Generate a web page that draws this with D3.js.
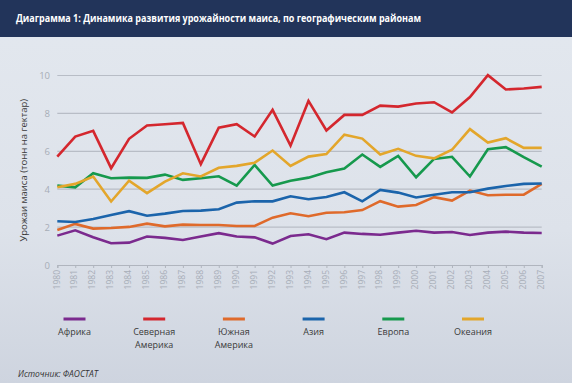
<!DOCTYPE html>
<html>
<head>
<meta charset="utf-8">
<script src="https://cdn.jsdelivr.net/npm/d3@7"></script>
<style>
  body { margin: 0; }
  svg { display: block; font-family: "Open Sans", "Noto Sans", sans-serif; }
</style>
</head>
<body>
<svg id="chart" width="572" height="383"></svg>
<script>
// --- Data ---
const years = d3.range(1980, 2008);
const yTicks = [0, 2, 4, 6, 8, 10];

const africa = [1.55, 1.83, 1.46, 1.15, 1.18, 1.50, 1.43, 1.32, 1.50, 1.68, 1.50, 1.46, 1.13, 1.53, 1.62, 1.36, 1.71, 1.64, 1.60, 1.71, 1.81, 1.71, 1.74, 1.58, 1.71, 1.76, 1.71, 1.69];
const northAmerica = [5.72, 6.78, 7.08, 5.11, 6.66, 7.36, 7.43, 7.50, 5.32, 7.25, 7.43, 6.78, 8.19, 6.30, 8.66, 7.10, 7.92, 7.92, 8.41, 8.36, 8.52, 8.59, 8.05, 8.86, 10.02, 9.26, 9.31, 9.40];
const southAmerica = [1.85, 2.17, 1.92, 1.95, 2.01, 2.18, 2.04, 2.13, 2.11, 2.11, 2.06, 2.06, 2.50, 2.73, 2.57, 2.76, 2.78, 2.90, 3.37, 3.08, 3.17, 3.58, 3.40, 3.93, 3.68, 3.71, 3.71, 4.28];
const asia = [2.31, 2.27, 2.43, 2.64, 2.84, 2.60, 2.71, 2.85, 2.87, 2.94, 3.29, 3.36, 3.36, 3.63, 3.47, 3.59, 3.84, 3.36, 3.96, 3.82, 3.56, 3.71, 3.84, 3.84, 4.03, 4.17, 4.28, 4.30];
const europe = [4.19, 4.10, 4.84, 4.58, 4.61, 4.60, 4.77, 4.49, 4.58, 4.68, 4.19, 5.28, 4.19, 4.45, 4.61, 4.90, 5.09, 5.83, 5.18, 5.76, 4.63, 5.60, 5.71, 4.67, 6.11, 6.22, 5.69, 5.19];
const oceania = [4.10, 4.28, 4.67, 3.35, 4.45, 3.79, 4.40, 4.84, 4.67, 5.13, 5.23, 5.40, 6.04, 5.23, 5.72, 5.85, 6.88, 6.67, 5.83, 6.13, 5.76, 5.63, 6.08, 7.17, 6.46, 6.69, 6.18, 6.18];

const seriesNames = ['Африка', 'Северная\nАмерика', 'Южная\nАмерика', 'Азия', 'Европа', 'Океания'];
const seriesValues = [africa, northAmerica, southAmerica, asia, europe, oceania];
const seriesColors = ['#7b2a8e', '#d4272e', '#df6a2b', '#1b64ab', '#16994d', '#e3a62b'];

// --- Setup ---
const W = 572, H = 383;
const svg = d3.select('#chart');

const defs = svg.append('defs');
const grad = defs.append('linearGradient')
  .attr('id', 'bg').attr('x1', 0).attr('y1', 0).attr('x2', 0).attr('y2', 1);
grad.append('stop').attr('offset', '0%').attr('stop-color', '#e3e8ef');
grad.append('stop').attr('offset', '60%').attr('stop-color', '#dde2ea');
grad.append('stop').attr('offset', '100%').attr('stop-color', '#ced4df');

svg.append('rect').attr('width', W).attr('height', H).attr('fill', 'url(#bg)');

// Title banner
svg.append('rect').attr('width', W).attr('height', 37).attr('fill', '#22345a');
svg.append('text')
  .attr('x', 16).attr('y', 22)
  .attr('fill', '#fff')
  .attr('font-size', 10.5)
  .attr('font-weight', 'bold')
  .attr('font-family', '"Liberation Sans Narrow", "Open Sans", sans-serif')
  .attr('textLength', 405)
  .attr('lengthAdjust', 'spacingAndGlyphs')
  .text('Диаграмма 1: Динамика развития урожайности маиса, по географическим районам');

// Scales
const x = d3.scaleLinear().domain([1980, 2007]).range([57.3, 541.7]);
const y = d3.scaleLinear().domain([0, 10]).range([265, 75.5]);

// Gridlines
svg.append('g')
  .selectAll('line')
  .data(yTicks.filter(d => d > 0))
  .join('line')
  .attr('x1', x(1980)).attr('x2', x(2007))
  .attr('y1', d => y(d)).attr('y2', d => y(d))
  .attr('stroke', '#b8bdc6').attr('stroke-width', 1.2);

// Y labels
svg.append('g')
  .selectAll('text')
  .data(yTicks)
  .join('text')
  .attr('x', 50).attr('y', d => y(d) + 3.5)
  .attr('text-anchor', 'end')
  .attr('font-size', 9.5)
  .attr('fill', '#a7adb7')
  .text(d => d);

// X axis
const xAxis = svg.append('g')
  .attr('transform', `translate(0,${y(0)})`)
  .call(d3.axisBottom(x).tickValues(years).tickFormat(d3.format('d')).tickSize(3));
xAxis.select('.domain').attr('stroke', '#b0b5be').attr('stroke-width', 1.2);
xAxis.selectAll('.tick line').attr('stroke', '#b0b5be');
xAxis.selectAll('.tick text')
  .attr('font-size', 8.5)
  .attr('font-family', '"Open Sans", sans-serif')
  .attr('fill', '#a7adb7')
  .attr('transform', 'rotate(-90)')
  .attr('text-anchor', 'end')
  .attr('x', -5).attr('y', -1)
  .attr('dy', '0.32em');

// Y axis title
svg.append('text')
  .attr('transform', `translate(27,${(y(0) + y(10)) / 2}) rotate(-90)`)
  .attr('text-anchor', 'middle')
  .attr('font-size', 9.5)
  .attr('fill', '#3a3a3a')
  .text('Урожаи маиса (тонн на гектар)');

// Lines
const line = d3.line()
  .x((d, i) => x(years[i]))
  .y(d => y(d));

svg.append('g')
  .selectAll('path')
  .data(seriesValues)
  .join('path')
  .attr('d', line)
  .attr('fill', 'none')
  .attr('stroke', (d, i) => seriesColors[i])
  .attr('stroke-width', 2.6)
  .attr('stroke-linejoin', 'miter');

// Legend
const lx = d3.scalePoint().domain(seriesNames).range([74.5, 473]);
const legend = svg.append('g')
  .selectAll('g')
  .data(seriesNames)
  .join('g')
  .attr('transform', d => `translate(${lx(d)},0)`);

legend.append('line')
  .attr('x1', -11).attr('x2', 11)
  .attr('y1', 319).attr('y2', 319)
  .attr('stroke', (d, i) => seriesColors[i])
  .attr('stroke-width', 3);

legend.append('text')
  .attr('text-anchor', 'middle')
  .attr('font-size', 9)
  .attr('fill', '#3a3a3a')
  .selectAll('tspan')
  .data(d => d.split('\n'))
  .join('tspan')
  .attr('x', 0)
  .attr('y', (d, i) => 335 + i * 12.5)
  .text(d => d);

// Source
svg.append('text')
  .attr('x', 18).attr('y', 377)
  .attr('font-size', 9)
  .attr('font-style', 'italic')
  .attr('fill', '#333')
  .attr('textLength', 80)
  .attr('lengthAdjust', 'spacingAndGlyphs')
  .text('Источник: ФАОСТАТ');
</script>
</body>
</html>
